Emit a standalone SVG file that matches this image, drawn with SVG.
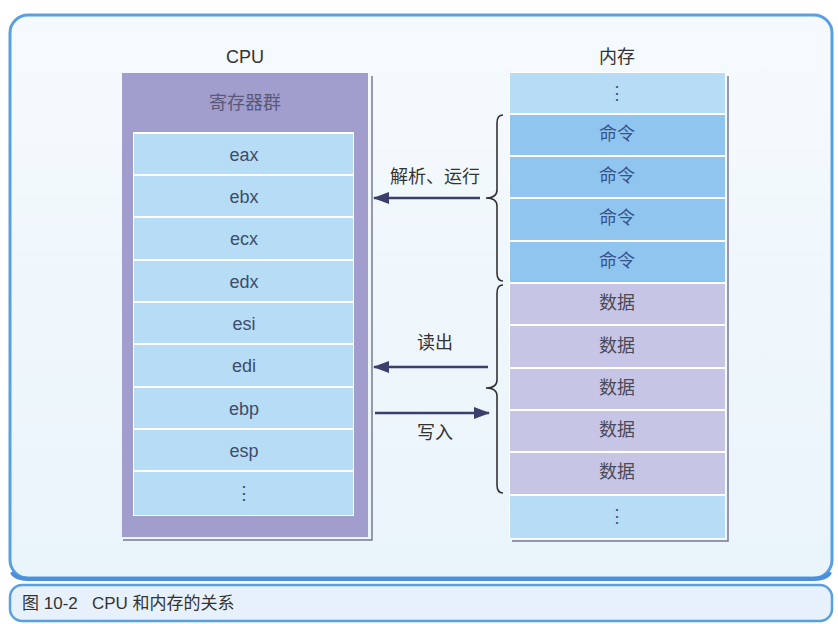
<svg xmlns="http://www.w3.org/2000/svg" width="838" height="624" viewBox="0 0 838 624">
<defs>
<style>
.t{font-family:"Liberation Sans","Noto Sans CJK SC",sans-serif;font-size:18px;text-anchor:middle;dominant-baseline:central}
.reg{fill:#b7dcf6}
.cmd{fill:#90c5ef}
.dat{fill:#c7c5e6}
.rt{fill:#3d4d6b}
.ct{fill:#35548f}
.dt{fill:#4a4a58}
.sh{fill:none;stroke:#7a7a90;stroke-width:1.5}
.br{fill:none;stroke:#333;stroke-width:1.6}
.ar{stroke:#3b3f6b;stroke-width:2.6;fill:none}
</style>
<marker id="ah" markerWidth="16" markerHeight="12" refX="15" refY="6" orient="auto" markerUnits="userSpaceOnUse">
<path d="M0,0 L16,6 L0,12 z" fill="#3b3f6b"/>
</marker>
<linearGradient id="bg" x1="0" y1="0" x2="0" y2="1">
<stop offset="0" stop-color="#f5fafd"/>
<stop offset="1" stop-color="#eaf4fb"/>
</linearGradient>
</defs>
<rect width="838" height="624" fill="#ffffff"/>
<g id="frame">
<rect x="10" y="15" width="822" height="563" rx="18" fill="url(#bg)" stroke="#5a9fe0" stroke-width="3"/>
<path d="M12,572 Q14,578 28,579 L814,579 Q828,578 830,572" fill="none" stroke="#4a90dd" stroke-width="4"/>
</g>
<g id="caption">
<rect x="10" y="585" width="822" height="36" rx="12" fill="#e6f1fb" stroke="#5a9fe0" stroke-width="2.5"/>
<text x="22" y="603" xml:space="preserve" style="font-family:'Liberation Sans','Noto Sans CJK SC',sans-serif;font-size:17px;dominant-baseline:central" fill="#333">图 10-2   CPU 和内存的关系</text>
</g>
<g id="cpu">
<text class="t" x="245" y="57" fill="#333">CPU</text>
<path class="sh" d="M372,76 L372,540 L123,540"/>
<rect x="122" y="73" width="246" height="464" fill="#a19dcd"/>
<rect x="133" y="132" width="221" height="384" fill="#ffffff"/>
<text class="t" x="245" y="103" fill="#5a5a78">寄存器群</text>
</g>
<g id="reg-eax"><rect class="reg" x="134" y="134" width="219" height="40"/><text class="t rt" x="244" y="155">eax</text></g>
<g id="reg-ebx"><rect class="reg" x="134" y="176" width="219" height="40"/><text class="t rt" x="244" y="197">ebx</text></g>
<g id="reg-ecx"><rect class="reg" x="134" y="218" width="219" height="41"/><text class="t rt" x="244" y="239">ecx</text></g>
<g id="reg-edx"><rect class="reg" x="134" y="261" width="219" height="40"/><text class="t rt" x="244" y="282">edx</text></g>
<g id="reg-esi"><rect class="reg" x="134" y="303" width="219" height="40"/><text class="t rt" x="244" y="324">esi</text></g>
<g id="reg-edi"><rect class="reg" x="134" y="345" width="219" height="41"/><text class="t rt" x="244" y="366">edi</text></g>
<g id="reg-ebp"><rect class="reg" x="134" y="388" width="219" height="40"/><text class="t rt" x="244" y="409">ebp</text></g>
<g id="reg-esp"><rect class="reg" x="134" y="430" width="219" height="40"/><text class="t rt" x="244" y="451">esp</text></g>
<g id="reg-more"><rect class="reg" x="134" y="472" width="219" height="43"/><text class="t rt" x="244" y="493">⋮</text></g>
<g id="mem">
<text class="t" x="617" y="57" fill="#333">内存</text>
<path class="sh" d="M728,76 L728,541 L512,541"/>
<rect x="509" y="72" width="217" height="467" fill="#ffffff"/>
</g>
<g id="mem-top"><rect class="reg" x="510" y="73" width="215" height="40"/><text class="t ct" x="617" y="93">⋮</text></g>
<g id="mem-c1"><rect class="cmd" x="510" y="115" width="215" height="40"/><text class="t ct" x="617" y="134">命令</text></g>
<g id="mem-c2"><rect class="cmd" x="510" y="157" width="215" height="40"/><text class="t ct" x="617" y="176">命令</text></g>
<g id="mem-c3"><rect class="cmd" x="510" y="199" width="215" height="41"/><text class="t ct" x="617" y="218">命令</text></g>
<g id="mem-c4"><rect class="cmd" x="510" y="242" width="215" height="40"/><text class="t ct" x="617" y="261">命令</text></g>
<g id="mem-d1"><rect class="dat" x="510" y="284" width="215" height="40"/><text class="t dt" x="617" y="303">数据</text></g>
<g id="mem-d2"><rect class="dat" x="510" y="326" width="215" height="41"/><text class="t dt" x="617" y="346">数据</text></g>
<g id="mem-d3"><rect class="dat" x="510" y="369" width="215" height="40"/><text class="t dt" x="617" y="388">数据</text></g>
<g id="mem-d4"><rect class="dat" x="510" y="411" width="215" height="40"/><text class="t dt" x="617" y="430">数据</text></g>
<g id="mem-d5"><rect class="dat" x="510" y="453" width="215" height="41"/><text class="t dt" x="617" y="472">数据</text></g>
<g id="mem-bot"><rect class="reg" x="510" y="496" width="215" height="42"/><text class="t ct" x="617" y="516">⋮</text></g>
<g id="connectors">
<path class="br" d="M503,115 Q497,115 497,123 L497,190 Q497,198 486,198 Q497,198 497,206 L497,273 Q497,281 503,281"/>
<path class="br" d="M503,285 Q497,285 497,293 L497,380 Q497,388 486,388 Q497,388 497,396 L497,485 Q497,493 503,493"/>
<line class="ar" x1="480" y1="198" x2="374" y2="198" marker-end="url(#ah)"/>
<line class="ar" x1="488" y1="367" x2="374" y2="367" marker-end="url(#ah)"/>
<line class="ar" x1="375" y1="413" x2="489" y2="413" marker-end="url(#ah)"/>
<text class="t" x="435" y="177" fill="#333">解析、运行</text>
<text class="t" x="435" y="343" fill="#333">读出</text>
<text class="t" x="435" y="433" fill="#333">写入</text>
</g>
</svg>
